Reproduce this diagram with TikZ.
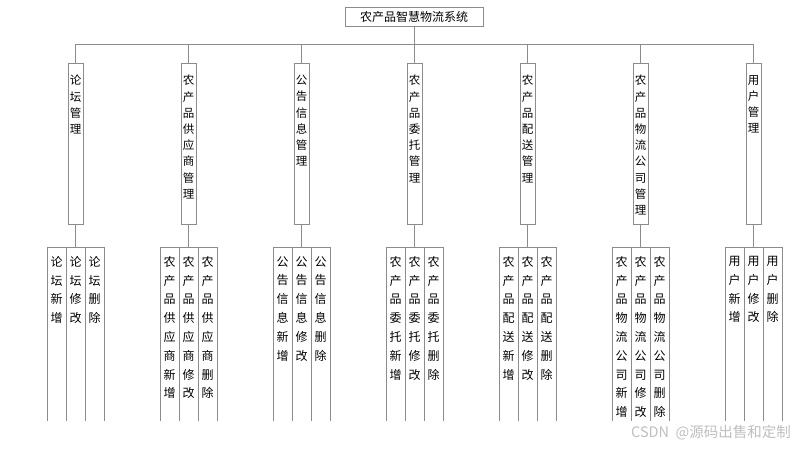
\documentclass[tikz,border=0pt]{standalone}
\usepackage{fontspec}
\setmainfont{Noto Sans CJK SC}
\usetikzlibrary{positioning,calc}

\tikzset{
  line/.style={draw=black!45, line width=0.9pt},
  rootbox/.style={line, minimum width=138pt, minimum height=19pt, inner sep=0pt, font=\fontsize{12}{14}\selectfont},
  catbox/.style={line, anchor=north, minimum width=15pt, minimum height=161pt, inner sep=0pt, outer sep=0pt},
  leafbox/.style={line, anchor=north, minimum width=19pt, minimum height=200pt, inner sep=0pt, outer sep=0pt},
  cattext/.style={anchor=north, align=center, inner sep=0pt, text=black, font=\fontsize{11.5}{16.2}\selectfont},
  leaftext/.style={anchor=north, align=center, inner sep=0pt, text=black, font=\fontsize{12}{18.8}\selectfont},
}

\begin{document}
\begin{tikzpicture}[x=1pt,y=-1pt]
\useasboundingbox[fill=white] (0,0) rectangle (804,450);

\node[rootbox] (root) at (414,16.5) {农产品智慧物流系统};
\coordinate (bus) at (414,44);
\draw[line] (root.south) -- (bus);

\begin{scope}
\clip (0,0) rectangle (804,420);
\foreach \pre [count=\i] in {{论\\坛},{农\\产\\品\\供\\应\\商},{公\\告\\信\\息},{农\\产\\品\\委\\托},{农\\产\\品\\配\\送},{农\\产\\品\\物\\流\\公\\司},{用\\户}}{
    \pgfmathsetmacro\cx{75.5 + 113*(\i - 1)};
    \node[catbox] (c\i) at (\cx,63) {};
    \node[cattext] (ct\i) at ($(c\i.north)+(0,12)$) {\pre\\管\\理};
    \node[leafbox] (m\i) at (\cx,247) {};
    \node[leafbox, left=0pt of m\i] (l\i) {};
    \node[leafbox, right=0pt of m\i] (r\i) {};
    \node[leaftext] (lt\i) at ($(l\i.north)+(0,9)$) {\pre\\新\\增};
    \node[leaftext] (mt\i) at ($(m\i.north)+(0,9)$) {\pre\\修\\改};
    \node[leaftext] (rt\i) at ($(r\i.north)+(0,9)$) {\pre\\删\\除};
    \draw[line] (c\i.north) |- (bus);
    \draw[line] (c\i.south) -- (m\i.north);
   }
\end{scope}

\node[anchor=east, inner sep=0pt, text=black!25, font=\fontsize{14.5}{16}\selectfont] (wm) at (791,433) {CSDN\ \ @源码出售和定制};

\end{tikzpicture}
\end{document}
